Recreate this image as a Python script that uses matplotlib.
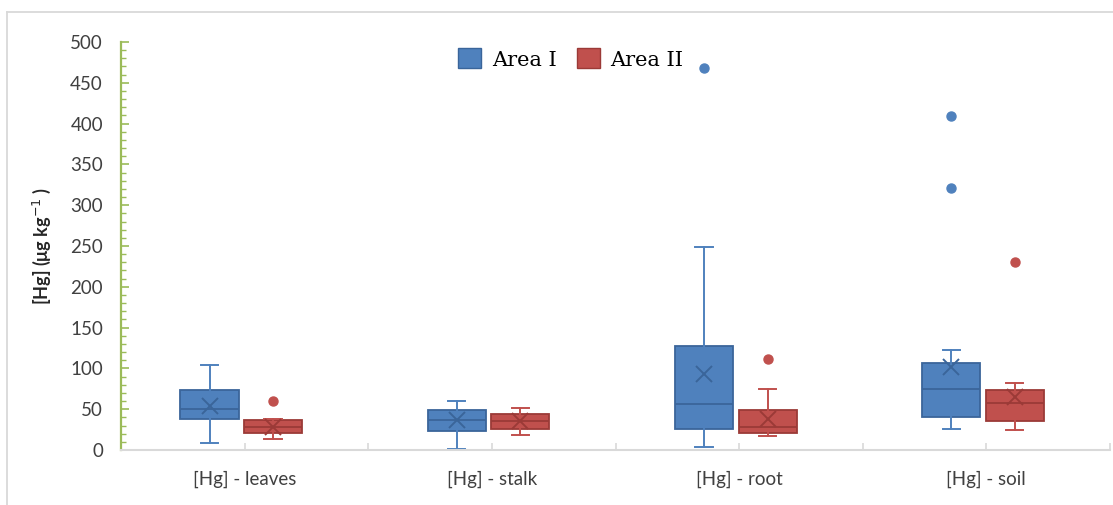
"""
plot.py: mercury box plots, Area I vs Area II, Excel-style look.
Writes out.png (1113x505).
"""
import matplotlib
matplotlib.use("Agg")
import matplotlib.pyplot as plt
from matplotlib.lines import Line2D
from matplotlib.patches import Patch

BLUE, BLUE_EDGE = "#4F81BD", "#3A659A"
RED, RED_EDGE = "#C0504D", "#9B3A37"
GREEN, GRID, LABEL = "#9BBB59", "#D9D9D9", "#404040"

categories = ["[Hg] - leaves", "[Hg] - stalk", "[Hg] - root", "[Hg] - soil"]

# Area I (ug/kg)
area1_whislo = [9, 1, 4, 26]
area1_q1 = [38, 23, 26, 41]
area1_med = [50, 37, 56, 75]
area1_q3 = [74, 49, 128, 107]
area1_whishi = [104, 60, 249, 122]
area1_mean = [54, 37, 93, 102]
area1_fliers = [[], [], [468], [409, 321]]

# Area II
area2_whislo = [14, 18, 17, 25]
area2_q1 = [21, 26, 21, 36]
area2_med = [28, 36, 28, 58]
area2_q3 = [37, 44, 49, 74]
area2_whishi = [38, 52, 75, 82]
area2_mean = [28, 35, 38, 65]
area2_fliers = [[60], [], [112], [230]]

yticks = [0, 50, 100, 150, 200, 250, 300, 350, 400, 450, 500]


def stats(lo, q1, med, q3, hi, mean, fl):
    return [dict(whislo=a, q1=b, med=c, q3=d, whishi=e, mean=f, fliers=g)
            for a, b, c, d, e, f, g in zip(lo, q1, med, q3, hi, mean, fl)]


def draw(ax, st, pos, face, edge):
    ax.bxp(st, positions=pos, widths=0.235, capwidths=0.07, patch_artist=True,
           showmeans=True, manage_ticks=False,
           boxprops=dict(facecolor=face, edgecolor=edge, linewidth=1.3),
           medianprops=dict(color=edge, linewidth=1.3),
           whiskerprops=dict(color=face, linewidth=1.4),
           capprops=dict(color=face, linewidth=1.4),
           meanprops=dict(marker="x", markersize=12, markeredgewidth=1.4,
                          markeredgecolor=edge),
           flierprops=dict(marker="o", markersize=6.5, markerfacecolor=face,
                           markeredgecolor=face))


def main():
    fig = plt.figure(figsize=(11.13, 5.05), dpi=100)
    ax = fig.add_axes([121 / 1113, 55 / 505, 989 / 1113, 408 / 505])

    # chart-area border (left and top edges visible)
    fig.add_artist(Line2D([7 / 1113, 7 / 1113], [0, 1 - 12 / 505],
                          transform=fig.transFigure, color=GRID, lw=1.3))
    fig.add_artist(Line2D([7 / 1113, 1], [1 - 12 / 505, 1 - 12 / 505],
                          transform=fig.transFigure, color=GRID, lw=1.3))

    cx = list(range(1, len(categories) + 1))
    draw(ax, stats(area1_whislo, area1_q1, area1_med, area1_q3, area1_whishi,
                   area1_mean, area1_fliers),
         [c - 0.142 for c in cx], BLUE, BLUE_EDGE)
    draw(ax, stats(area2_whislo, area2_q1, area2_med, area2_q3, area2_whishi,
                   area2_mean, area2_fliers),
         [c + 0.115 for c in cx], RED, RED_EDGE)

    ax.set_xlim(0.5, len(categories) + 0.5)
    ax.set_ylim(0, 500)
    ax.set_yticks(yticks)
    ax.set_yticks(range(0, 501, 10), minor=True)
    ax.set_xticks(cx)
    ax.set_xticklabels(categories)
    ax.set_xticks([c - 0.5 for c in cx] + [len(cx) + 0.5], minor=True)

    for s in ("top", "right"):
        ax.spines[s].set_visible(False)
    ax.spines["left"].set_color(GREEN)
    ax.spines["left"].set_linewidth(1.6)
    ax.spines["bottom"].set_color(GRID)
    ax.spines["bottom"].set_linewidth(1.5)

    ax.tick_params(axis="y", which="major", direction="in", length=6,
                   width=1.2, color=GREEN, labelsize=13.5, labelcolor=LABEL,
                   pad=13)
    ax.tick_params(axis="y", which="minor", direction="in", length=3.5,
                   width=1.0, color=GREEN)
    ax.tick_params(axis="x", which="both", direction="in", length=5,
                   width=1.2, color=GRID, labelsize=13.5, labelcolor=LABEL,
                   pad=15)
    for lab in ax.get_xticklabels() + ax.get_yticklabels():
        lab.set_fontfamily("Lato")

    ax.set_ylabel("[Hg] (μg kg$^{-1}$ )", fontsize=13, fontweight="bold",
                  fontfamily="Lato", color="#262626", labelpad=12)

    handles = [Patch(facecolor=BLUE, edgecolor=BLUE_EDGE, label="Area I"),
               Patch(facecolor=RED, edgecolor=RED_EDGE, label="Area II")]
    fig.legend(handles=handles, loc="center", bbox_to_anchor=(571 / 1113, 1 - 59 / 505),
               ncol=2, frameon=False, handlelength=1.1, handleheight=1.1,
               handletextpad=0.5, columnspacing=1.0,
               prop=dict(family="DejaVu Serif", size=15))

    fig.savefig("out.png", dpi=100, facecolor="white")
    plt.close(fig)


if __name__ == "__main__":
    main()
